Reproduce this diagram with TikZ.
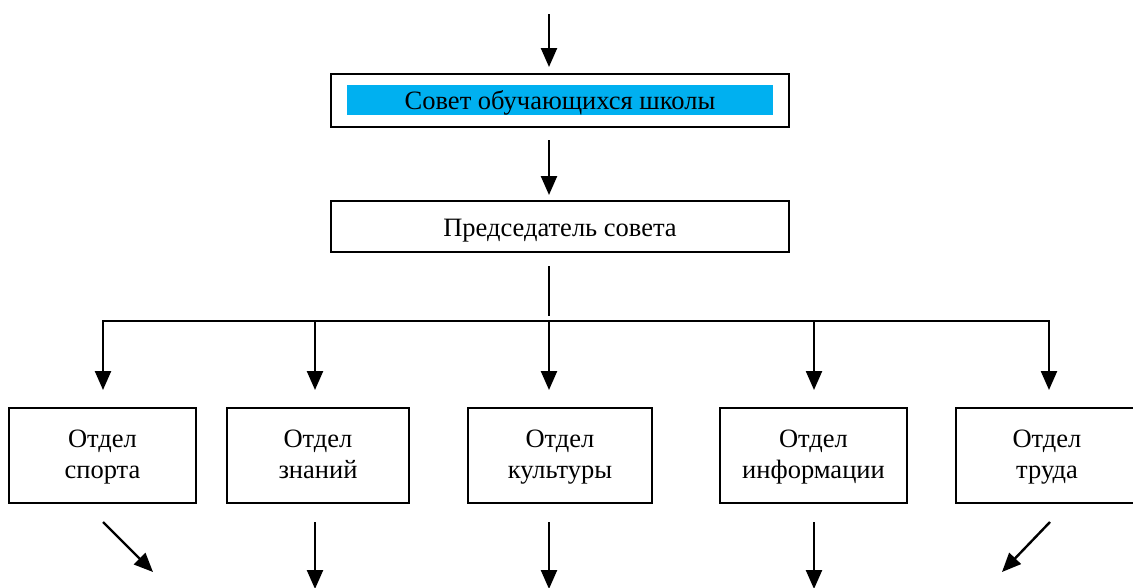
\documentclass[tikz,border=0pt]{standalone}
\usepackage{fontspec}
\setmainfont{Liberation Serif}
\usetikzlibrary{arrows.meta}
\definecolor{hlblue}{HTML}{00B0F0}
\begin{document}
\begin{tikzpicture}[x=1pt,y=-1pt,
  box/.style={draw,line width=2.2pt,rectangle,inner sep=0pt},
  lbl/.style={font=\fontsize{26.5}{31}\selectfont,align=center,inner sep=0pt},
  conn/.style={line width=2.4pt},
  arr/.style={line width=2.4pt,-{Triangle[length=19pt,width=16pt]}}]
\useasboundingbox (0,0) rectangle (1133,587);
% top boxes
\node[box,minimum width=458pt,minimum height=53pt] (b1) at (560,100.5) {};
\fill[hlblue] (347,85) rectangle (773,115);
\node[lbl] (t1) at (560,103.5) {Совет обучающихся школы\strut};
\node[box,minimum width=458pt,minimum height=51pt] (b2) at (560,226.5) {};
\node[lbl] (t2) at (560,230) {Председатель совета\strut};
% departments
\node[box,minimum width=187pt,minimum height=95pt] (d1) at (102.5,455.5) {};
\node[box,minimum width=182pt,minimum height=95pt] (d2) at (318,455.5) {};
\node[box,minimum width=184pt,minimum height=95pt] (d3) at (560,455.5) {};
\node[box,minimum width=187pt,minimum height=95pt] (d4) at (813.5,455.5) {};
\node[box,minimum width=182pt,minimum height=95pt] (d5) at (1047,455.5) {};
\node[lbl] (l1) at ([yshift=-1.5pt]d1.center) {Отдел\strut\\спорта\strut};
\node[lbl] (l2) at ([yshift=-1.5pt]d2.center) {Отдел\strut\\знаний\strut};
\node[lbl] (l3) at ([yshift=-1.5pt]d3.center) {Отдел\strut\\культуры\strut};
\node[lbl] (l4) at ([yshift=-1.5pt]d4.center) {Отдел\strut\\информации\strut};
\node[lbl] (l5) at ([yshift=-1.5pt]d5.center) {Отдел\strut\\труда\strut};
% coordinates
\coordinate (a0s) at (549,14);
\coordinate (a0e) at (549,67);
\coordinate (a1s) at (549,140);
\coordinate (a1e) at (549,195);
\coordinate (vs) at (549,266);
\coordinate (ve) at (549,316);
\coordinate (hl) at (102,321);
\coordinate (hr) at (1050,321);
\foreach \n/\x in {1/103,2/315,3/549,4/814,5/1049}{
  \coordinate (ht\n) at (\x,321);
  \coordinate (hb\n) at (\x,390);
}
\draw[arr] (a0s) -- (a0e);
\draw[arr] (a1s) -- (a1e);
\draw[conn] (vs) -- (ve);
\draw[conn] (hl) -- (hr);
\foreach \n in {1,...,5}{\draw[arr] (ht\n) -- (hb\n);}
% bottom arrows
\coordinate (s1) at (103,522); \coordinate (e1) at (153,572);
\coordinate (s2) at (315,522); \coordinate (e2) at (315,589);
\coordinate (s3) at (549,522); \coordinate (e3) at (549,589);
\coordinate (s4) at (814,522); \coordinate (e4) at (814,589);
\coordinate (s5) at (1050,522); \coordinate (e5) at (1002,572);
\foreach \n in {1,...,5}{\draw[arr] (s\n) -- (e\n);}
\end{tikzpicture}
\end{document}
